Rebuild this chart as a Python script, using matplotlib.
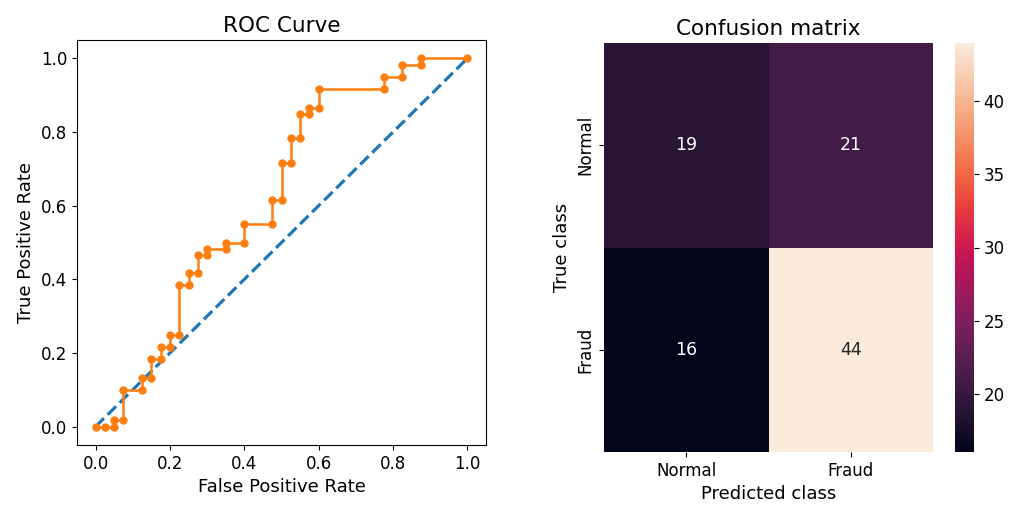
import matplotlib
matplotlib.use('Agg')
import matplotlib.pyplot as plt
import numpy as np
import seaborn as sns

# ROC curve points (FPR, TPR)
fpr = [0.0, 0.025, 0.05, 0.05, 0.075, 0.075, 0.125, 0.125, 0.15, 0.15, 0.175, 0.175,
       0.2, 0.2, 0.225, 0.225, 0.25, 0.25, 0.275, 0.275, 0.3, 0.3, 0.35, 0.35, 0.4, 0.4,
       0.475, 0.475, 0.5, 0.5, 0.525, 0.525, 0.55, 0.55, 0.575, 0.575, 0.6, 0.6,
       0.775, 0.775, 0.825, 0.825, 0.875, 0.875, 1.0]
tpr_counts = [0, 0, 0, 1, 1, 6, 6, 8, 8, 11, 11, 13, 13, 15, 15, 23, 23, 25, 25, 28, 28,
              29, 29, 30, 30, 33, 33, 37, 37, 43, 43, 47, 47, 51, 51, 52, 52, 55, 55, 57,
              57, 59, 59, 60, 60]
tpr = [c / 60 for c in tpr_counts]

# confusion matrix
class_names = ['Normal', 'Fraud']
conf_matrix = [[19, 21],
               [16, 44]]

TICK = 12
LABEL = 13
TITLE = 15.5

fig = plt.figure(figsize=(10.14, 5.08), dpi=100)

# ---------- ROC ----------
ax1 = fig.add_axes([77 / 1014, 1 - 445 / 508, 409 / 1014, 405 / 508])
ax1.plot([0, 1], [0, 1], linestyle='--', color='#1f77b4', linewidth=2.3)
ax1.plot(fpr, tpr, marker='.', color='#ff7f0e', linewidth=1.8, markersize=10)
ax1.set_title('ROC Curve', fontsize=TITLE)
ax1.set_xlabel('False Positive Rate', fontsize=LABEL)
ax1.set_ylabel('True Positive Rate', fontsize=LABEL)
ax1.tick_params(labelsize=TICK)

# ---------- Confusion matrix ----------
ax2 = fig.add_axes([604 / 1014, 1 - 452 / 508, 329 / 1014, 409 / 508])
cax = fig.add_axes([955 / 1014, 1 - 452 / 508, 19 / 1014, 409 / 508])
sns.heatmap(np.array(conf_matrix), xticklabels=class_names, yticklabels=class_names,
            annot=True, fmt='d', ax=ax2, cbar_ax=cax, annot_kws={'fontsize': 12.5})
ax2.set_title('Confusion matrix', fontsize=TITLE)
ax2.set_xlabel('Predicted class', fontsize=LABEL)
ax2.set_ylabel('True class', fontsize=LABEL)
ax2.tick_params(labelsize=TICK)
cax.tick_params(labelsize=TICK)

plt.savefig('out.png', dpi=100)
